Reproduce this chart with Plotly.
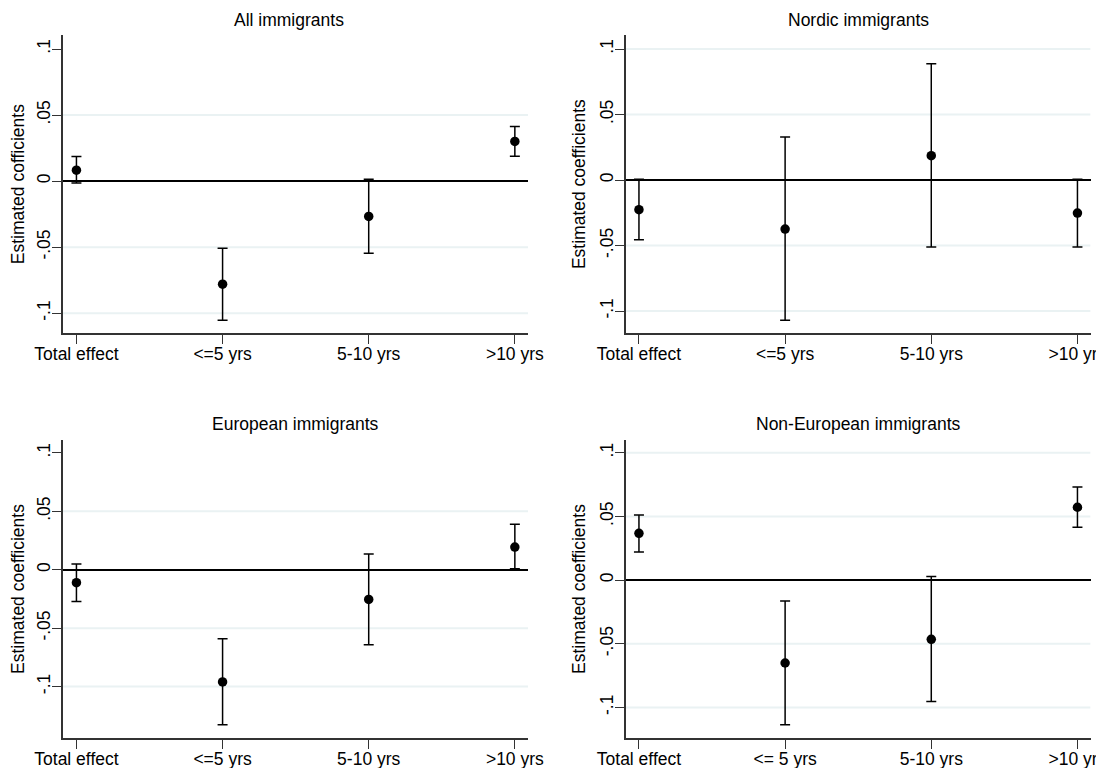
import plotly.graph_objects as go

# ---------------- data ----------------
panel_titles = ["All immigrants", "Nordic immigrants", "European immigrants", "Non-European immigrants"]
y_titles = ["Estimated cofficients", "Estimated coefficients", "Estimated coefficients", "Estimated coefficients"]

cats_std = ["Total effect", "<=5 yrs", "5-10 yrs", ">10 yrs"]
cats_noneu = ["Total effect", "<= 5 yrs", "5-10 yrs", ">10 yrs"]

# All immigrants
all_coef = [0.0083, -0.078, -0.0267, 0.030]
all_lo = [-0.0015, -0.1053, -0.0547, 0.0189]
all_hi = [0.0186, -0.0509, 0.0015, 0.0413]

# Nordic immigrants
nor_coef = [-0.0226, -0.0374, 0.0186, -0.0252]
nor_lo = [-0.0455, -0.1071, -0.0511, -0.0511]
nor_hi = [0.0005, 0.0328, 0.0888, 0.0005]

# European immigrants
eur_coef = [-0.0111, -0.0960, -0.0254, 0.0194]
eur_lo = [-0.0271, -0.1326, -0.0643, 0.0009]
eur_hi = [0.0049, -0.0591, 0.0134, 0.0389]

# Non-European immigrants
neu_coef = [0.0367, -0.0651, -0.0465, 0.0572]
neu_lo = [0.0220, -0.1136, -0.0953, 0.0415]
neu_hi = [0.0512, -0.0165, 0.0029, 0.0730]

ytick_vals = [-0.1, -0.05, 0, 0.05, 0.1]
ytick_text = ["-.1", "-.05", "0", ".05", ".1"]

# light grid lines drawn in each panel (top one absent in left panels)
grid_vals = [
    [-0.1, -0.05, 0.05],
    [-0.1, -0.05, 0.05, 0.1],
    [-0.1, -0.05, 0.05],
    [-0.1, -0.05, 0.05, 0.1],
]

panels = [
    (cats_std, all_coef, all_lo, all_hi),
    (cats_std, nor_coef, nor_lo, nor_hi),
    (cats_std, eur_coef, eur_lo, eur_hi),
    (cats_noneu, neu_coef, neu_lo, neu_hi),
]
y_ranges = [[-0.1152, 0.1106], [-0.117, 0.1107], [-0.144, 0.111], [-0.124, 0.110]]

# ---------------- layout geometry ----------------
PAGE_W, PAGE_H = 1104, 768
PAD = 8  # default body margin of the html page
W, H = PAGE_W - PAD, PAGE_H - PAD


def px_x(x):
    return (x - PAD) / W


def px_y(y):
    return 1 - (y - PAD) / H


x_domains = [[px_x(63), px_x(528)], [px_x(625.5), px_x(1090.6)]]
y_domains = [[px_y(333.3), px_y(35)], [px_y(738), px_y(440)]]
title_y = [px_y(20), px_y(424)]
title_dx = [-7 / W, 0, 0, 0]

font_family = "Liberation Sans, Arial, sans-serif"
FS = 17.5
fig = go.Figure()

for i, (cats, coef, lo, hi) in enumerate(panels):
    r, c = divmod(i, 2)
    n = i + 1
    xa = "x" if n == 1 else f"x{n}"
    ya = "y" if n == 1 else f"y{n}"
    xpos = list(range(len(cats)))
    xr = [-0.092, 3.09]

    # grid lines (beneath data)
    for g in grid_vals[i]:
        fig.add_shape(type="line", xref=xa, yref=ya, x0=xr[0], x1=xr[1], y0=g, y1=g,
                      line=dict(color="#EAF2F3", width=2), layer="below")

    fig.add_trace(go.Scatter(
        x=xpos, y=coef, mode="markers",
        marker=dict(color="black", size=9.5),
        error_y=dict(type="data", symmetric=False,
                     array=[h - v for h, v in zip(hi, coef)],
                     arrayminus=[v - l for v, l in zip(coef, lo)],
                     color="black", thickness=1.5, width=5),
        xaxis=xa, yaxis=ya, showlegend=False, hoverinfo="skip",
    ))
    xkey = "xaxis" if n == 1 else f"xaxis{n}"
    ykey = "yaxis" if n == 1 else f"yaxis{n}"
    fig.layout[xkey] = dict(
        domain=x_domains[c], anchor=ya, range=xr,
        tickvals=xpos, ticktext=cats, ticks="outside", ticklen=9,
        tickcolor="#333333", tickwidth=1.3,
        showline=True, linecolor="#333333", linewidth=1.5,
        showgrid=False, zeroline=False, automargin=False,
        ticklabelstandoff=-5, ticklabeloverflow="allow",
        tickfont=dict(family=font_family, size=FS, color="black"),
        fixedrange=True,
    )
    fig.layout[ykey] = dict(
        domain=y_domains[r], anchor=xa, range=y_ranges[i],
        tickvals=ytick_vals, ticktext=ytick_text, tickangle=-90,
        ticks="outside", ticklen=9, tickcolor="#333333", tickwidth=1.3,
        showline=True, linecolor="#333333", linewidth=1.5,
        showgrid=False,
        zeroline=True, zerolinecolor="black", zerolinewidth=1.6,
        automargin=False, ticklabelstandoff=-5,
        tickfont=dict(family=font_family, size=FS, color="black"),
        title=dict(text=y_titles[i], standoff=7,
                   font=dict(family=font_family, size=FS, color="black")),
        fixedrange=True,
    )
    fig.add_annotation(
        text=panel_titles[i], xref="paper", yref="paper",
        x=(x_domains[c][0] + x_domains[c][1]) / 2 + title_dx[i], y=title_y[r],
        showarrow=False, xanchor="center", yanchor="middle",
        font=dict(family=font_family, size=FS, color="black"),
    )

fig.update_layout(
    width=W, height=H,
    margin=dict(l=0, r=0, t=0, b=0),
    paper_bgcolor="white", plot_bgcolor="white",
    font=dict(family=font_family, color="black"),
)

fig.write_html("out.html")
